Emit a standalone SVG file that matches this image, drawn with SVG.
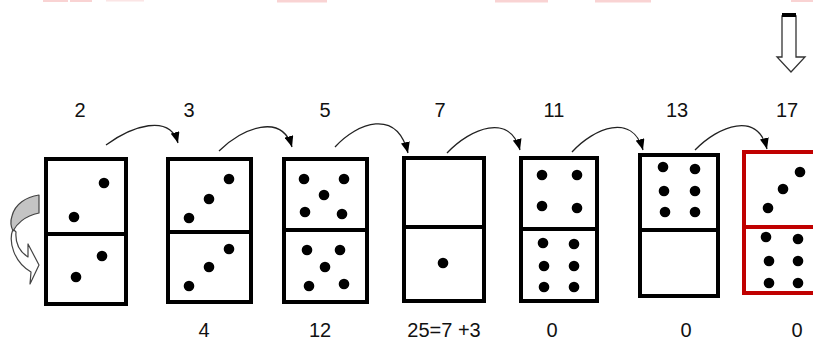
<svg xmlns="http://www.w3.org/2000/svg" width="813" height="340" viewBox="0 0 813 340">
<style>
.lbl{font-family:"Liberation Sans",Arial,sans-serif;font-size:20px;fill:#111;text-anchor:middle}
.dom{fill:#fff;stroke:#000;stroke-width:4}
.red{fill:#fff;stroke:#c00000;stroke-width:4}
.div{stroke:#000;stroke-width:4}
.divr{stroke:#c00000;stroke-width:4}
.dot{fill:#000}
.con{fill:none;stroke:#222;stroke-width:1.3}
.smudge{fill:#f9d3d3}
</style>
<defs>
<marker id="ah" viewBox="0 0 11 9" refX="11" refY="4.5" markerWidth="11" markerHeight="9" markerUnits="userSpaceOnUse" orient="auto">
<path d="M0,0 L11,4.5 L0,9 z" fill="#000"/>
</marker>
<circle id="d" r="5.3" class="dot"/>
</defs>
<rect width="813" height="340" fill="#fff"/>
<g id="smudges">
<rect class="smudge" x="43" y="0" width="25" height="2"/>
<rect class="smudge" x="70" y="0" width="22" height="2"/>
<rect class="smudge" x="106" y="0" width="38" height="1.5" opacity="0.6"/>
<rect class="smudge" x="277" y="0" width="50" height="2.5"/>
<rect class="smudge" x="495" y="0" width="53" height="2.5"/>
<rect class="smudge" x="595" y="0" width="56" height="2.5"/>
<rect class="smudge" x="791" y="0" width="22" height="2"/>
</g>
<g id="labels-top">
<text class="lbl" x="80" y="117">2</text>
<text class="lbl" x="189" y="117">3</text>
<text class="lbl" x="325" y="117">5</text>
<text class="lbl" x="440" y="117">7</text>
<text class="lbl" x="554" y="117">11</text>
<text class="lbl" x="677" y="117">13</text>
<text class="lbl" x="787" y="117">17</text>
</g>
<g id="labels-bottom">
<text class="lbl" x="204" y="337">4</text>
<text class="lbl" x="320" y="337">12</text>
<text class="lbl" x="444" y="337">25=7 +3</text>
<text class="lbl" x="552" y="337">0</text>
<text class="lbl" x="686" y="337">0</text>
<text class="lbl" x="797" y="337">0</text>
</g>
<g id="domino1">
<rect class="dom" x="46" y="159" width="80" height="145"/>
<line class="div" x1="46" y1="234" x2="126" y2="234"/>
<use href="#d" x="104" y="183"/><use href="#d" x="74" y="217"/>
<use href="#d" x="102" y="256"/><use href="#d" x="76" y="277"/>
</g>
<g id="domino2">
<rect class="dom" x="168" y="159" width="83" height="143"/>
<line class="div" x1="168" y1="232" x2="251" y2="232"/>
<use href="#d" x="229" y="179"/><use href="#d" x="209" y="199"/><use href="#d" x="189" y="218"/>
<use href="#d" x="229" y="249"/><use href="#d" x="209" y="267"/><use href="#d" x="189" y="286"/>
</g>
<g id="domino3">
<rect class="dom" x="284" y="159" width="83" height="143"/>
<line class="div" x1="284" y1="230" x2="367" y2="230"/>
<use href="#d" x="304" y="179"/><use href="#d" x="344" y="179"/><use href="#d" x="324" y="195"/>
<use href="#d" x="305" y="212"/><use href="#d" x="342" y="214"/>
<use href="#d" x="307" y="250"/><use href="#d" x="340" y="250"/><use href="#d" x="325" y="267"/>
<use href="#d" x="309" y="286"/><use href="#d" x="344" y="284"/>
</g>
<g id="domino4">
<rect class="dom" x="404" y="158" width="80" height="143"/>
<line class="div" x1="404" y1="227" x2="484" y2="227"/>
<use href="#d" x="443" y="263"/>
</g>
<g id="domino5">
<rect class="dom" x="521" y="158" width="76" height="143"/>
<line class="div" x1="521" y1="229" x2="597" y2="229"/>
<use href="#d" x="542" y="175"/><use href="#d" x="577" y="175"/>
<use href="#d" x="542" y="206"/><use href="#d" x="577" y="208"/>
<use href="#d" x="543" y="243"/><use href="#d" x="574" y="244"/>
<use href="#d" x="544" y="266"/><use href="#d" x="574" y="266"/>
<use href="#d" x="544" y="287"/><use href="#d" x="574" y="287"/>
</g>
<g id="domino6">
<rect class="dom" x="640" y="155" width="78" height="141"/>
<line class="div" x1="640" y1="230" x2="718" y2="230"/>
<use href="#d" x="663" y="167"/><use href="#d" x="695" y="169"/>
<use href="#d" x="664" y="191"/><use href="#d" x="695" y="191"/>
<use href="#d" x="665" y="212"/><use href="#d" x="695" y="212"/>
</g>
<g id="domino7">
<rect class="red" x="744" y="152" width="78" height="141"/>
<line class="divr" x1="744" y1="227" x2="822" y2="227"/>
<use href="#d" x="800" y="172"/><use href="#d" x="783" y="189"/><use href="#d" x="768" y="208"/>
<use href="#d" x="766" y="237"/><use href="#d" x="798" y="239"/>
<use href="#d" x="769" y="261"/><use href="#d" x="798" y="261"/>
<use href="#d" x="769" y="283"/><use href="#d" x="798" y="283"/>
</g>
<g id="flip-arrow">
<path d="M13,229 C8,242 14,262 31,272 L30,284 L39,265 L28,244 L28,257 C20,252 15,244 16,232 Z" fill="#fff" stroke="#444" stroke-width="1.2" stroke-linejoin="round"/>
<path d="M39,195 C26,197 15,204 12,216 C10,222 11,227 13,231 C16,225 24,216 39,213 Z" fill="#c4c4c4" stroke="#444" stroke-width="1.2" stroke-linejoin="round"/>
</g>
<g id="down-arrow">
<path d="M782,16 L782,57 L777,57 L791,72 L805,57 L796,57 L796,16 Z" fill="#fff" stroke="#333" stroke-width="1.3" stroke-linejoin="miter"/>
<rect x="782" y="13" width="14" height="4" fill="#000"/>
</g>
<g id="connectors">
<path class="con" marker-end="url(#ah)" d="M106,145 C131.5,126.3 169.6,113 178,143"/>
<path class="con" marker-end="url(#ah)" d="M219,151 C243,127.2 282,113 292,147"/>
<path class="con" marker-end="url(#ah)" d="M335,147 C357.5,122.4 396.8,108 408,153"/>
<path class="con" marker-end="url(#ah)" d="M447,153 C471,127.5 510,113 520,150"/>
<path class="con" marker-end="url(#ah)" d="M572,152 C594.5,127.4 632.6,113 643,150"/>
<path class="con" marker-end="url(#ah)" d="M695,150 C719,125.4 757.4,111 767,149"/>
</g>
</svg>
